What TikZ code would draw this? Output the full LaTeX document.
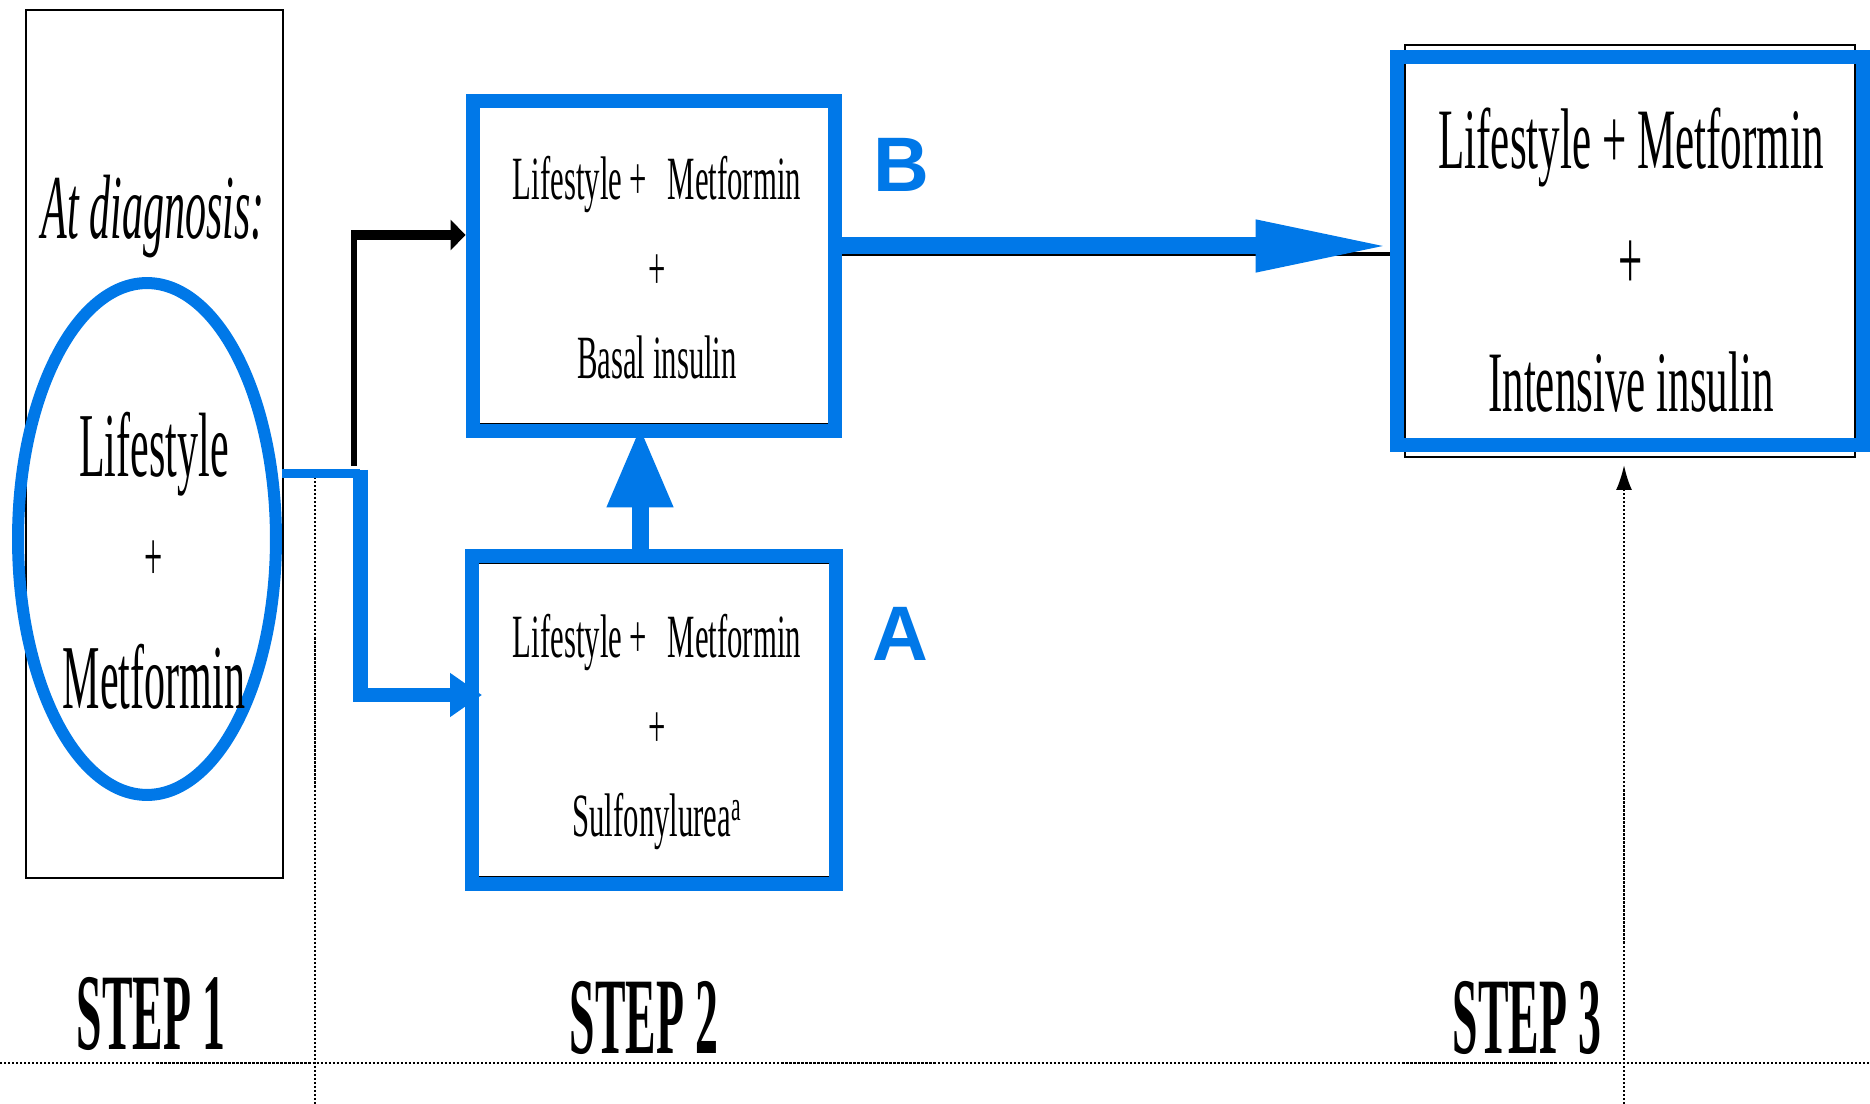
\documentclass[tikz,border=0pt]{standalone}
\usepackage{fontspec}
\setmainfont{Liberation Serif}
\newfontfamily\slimfont[FakeStretch=0.46]{Liberation Serif}
\newfontfamily\boxfont[FakeStretch=0.5]{Liberation Serif}
\newfontfamily\stepfont[FakeStretch=0.42]{Liberation Serif}
\newfontfamily\tagfont{Liberation Sans}
\usetikzlibrary{positioning,arrows.meta,calc,shapes.geometric}
\definecolor{markblue}{RGB}{0,120,232}

\begin{document}
\begin{tikzpicture}[
  x=0.02cm, y=-0.02cm,
  orig/.style={draw, line width=0.05cm, inner sep=0pt},
  bluebox/.style={draw=markblue, line width=0.28cm, inner sep=0pt},
  boxtext/.style={font=\boxfont\fontsize{35}{51}\selectfont, align=center, inner sep=0pt},
  bigtext/.style={font=\boxfont\fontsize{49}{69}\selectfont, align=center, inner sep=0pt},
  steplabel/.style={font=\stepfont\bfseries\fontsize{62}{62}\selectfont, inner sep=0pt},
  tag/.style={font=\tagfont\bfseries\fontsize{44}{44}\selectfont, text=markblue, inner sep=0pt},
  dots/.style={densely dotted, line width=0.045cm},
  bluearr/.style={draw=markblue, line width=0.34cm},
]
\useasboundingbox (0,0) rectangle (1870,1104);

% Step 1 column
\node[orig, minimum width=5.14cm, minimum height=17.36cm] (stepone) at (154.5,444) {};
\node[font=\slimfont\itshape\fontsize{52}{52}\selectfont, inner sep=0pt] (diag) at (153,217) {At diagnosis:};

% step dividers
\coordinate (cuttop) at (315,477);
\coordinate (cutbot) at (315,1104);
\draw[dots] (cuttop) -- (cutbot);
\coordinate (rulel) at (0,1063);
\coordinate (ruler) at (1870,1063);
\draw[dots] (rulel) -- (ruler);
\coordinate (laterbot) at (1624,1104);
\coordinate (latertop) at (1624,465);
\draw[dots, -{Latex[length=0.5cm,width=0.32cm]}] (laterbot) -- (latertop);

% Step 2 and 3 boxes (plain outlines underneath)
\node[orig, minimum width=7.26cm, minimum height=6.48cm] (basalorig) at (654,262) {};
\node[orig, minimum width=7.28cm, minimum height=6.28cm] (sulforig) at (654,720) {};
\node[orig, minimum width=9.0cm, minimum height=8.24cm] (intensiveorig) at (1630,251) {};
\node[bluebox, minimum width=7.26cm, minimum height=6.62cm] (basal) at (654,266) {};
\node[bluebox, minimum width=7.28cm, minimum height=6.58cm] (sulf) at (654,720) {};
\node[bluebox, minimum width=9.34cm, minimum height=7.78cm] (intensive) at (1630,251) {};
\node[ellipse, draw=markblue, line width=0.24cm, minimum width=5.16cm, minimum height=10.24cm, inner sep=0pt] (start) at (147,539) {};

% black arrow up to basal insulin
\coordinate (fork) at (354,466);
\coordinate (basalin) at ($(basal.west)+(0,-31)$);
\draw[line width=0.12cm] (fork) -- (fork |- basalin);
\draw[line width=0.2cm, -{Triangle[length=0.3cm,width=0.6cm]}] ($(fork |- basalin)+(-3,0)$) -- (basalin);

% blue connectors
\coordinate (split) at (360,474);
\coordinate (sulfin) at ($(sulf.west)+(17,-25)$);
\draw[draw=markblue, line width=0.18cm] (split -| start.east) -- (split);
\draw[bluearr, line width=0.3cm, -{Triangle[length=0.64cm,width=0.84cm]}] ($(split)+(0,-4)$) |- (sulfin);
\draw[bluearr, -{Triangle[length=1.62cm,width=1.24cm]}] ($(sulf.north)+(-14,0)$) -- ($(basal.south)+(-14,-12)$);
\coordinate (boutlow) at ($(basal.east)+(0,-12)$);
\draw[line width=0.08cm] (boutlow) -- (boutlow -| intensive.west);
\coordinate (bout) at ($(basal.east)+(0,-20)$);
\draw[bluearr, -{Triangle[length=2.68cm,width=0.96cm]}] (bout) -- (bout -| intensive.west);

% texts
\node[font=\slimfont\fontsize{52}{66}\selectfont, align=center, inner sep=0pt] (starttext) at (154,561) {Lifestyle\\\raisebox{7pt}{\fontsize{40}{40}\selectfont +}\\Metformin};
\node[boxtext] (basaltext) at (657,268) {Lifestyle +\,\,Metformin\\+\\Basal insulin};
\node[boxtext] (sulftext) at (657,732) {Lifestyle +\,\,Metformin\\+\\Sulfonylurea\textsuperscript{a}};
\node[bigtext] (intensivetext) at (1631,260) {Lifestyle + Metformin\\+\\Intensive insulin};
\node[tag] (tagb) at (901,165) {B};
\node[tag] (taga) at (900,634) {A};

\node[steplabel] (stepa) at (151,1014) {STEP 1};
\node[steplabel] (stepb) at (644,1018) {STEP 2};
\node[steplabel] (stepc) at (1527,1018) {STEP 3};
\end{tikzpicture}
\end{document}
